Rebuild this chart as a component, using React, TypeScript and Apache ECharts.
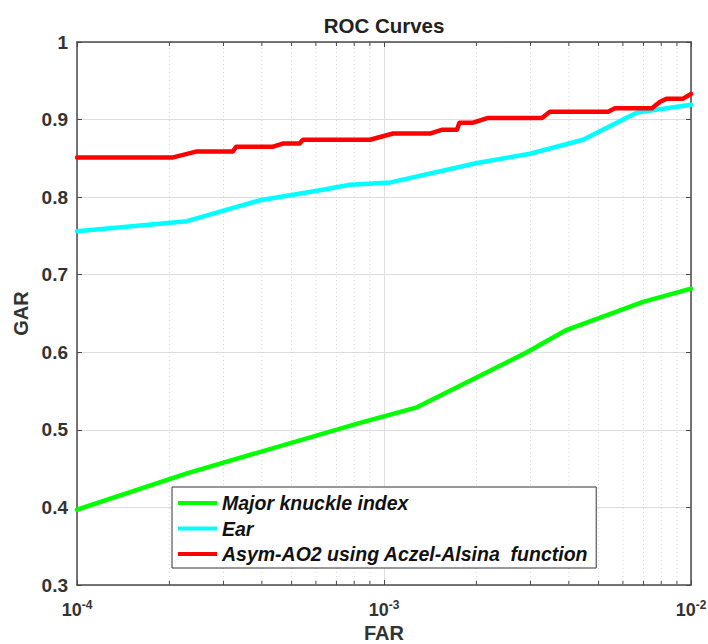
import React, { useEffect, useRef } from "react";
import * as echarts from "echarts";

// ---- Data ----
const SERIES_NAMES = [
  "Major knuckle index",
  "Ear",
  "Asym-AO2 using Aczel-Alsina  function",
];

const GREEN_FAR = [1e-4, 2.28e-4, 8.35e-4, 1.28e-3, 2.92e-3, 3.94e-3, 6.98e-3, 1e-2];
const GREEN_GAR = [0.397, 0.444, 0.509, 0.529, 0.6, 0.629, 0.665, 0.682];

const CYAN_FAR = [1e-4, 2.28e-4, 3.95e-4, 6.19e-4, 7.75e-4, 1.05e-3, 2.01e-3, 2.99e-3, 4.45e-3, 6.67e-3, 7.5e-3, 1e-2];
const CYAN_GAR = [0.756, 0.769, 0.796, 0.809, 0.816, 0.819, 0.844, 0.856, 0.874, 0.909, 0.912, 0.919];

const RED_FAR = [
  1e-4, 2.04e-4, 2.46e-4, 3.22e-4, 3.3e-4, 4.35e-4, 4.68e-4, 5.3e-4, 5.45e-4,
  9.0e-4, 1.07e-3, 1.41e-3, 1.55e-3, 1.73e-3, 1.76e-3, 1.95e-3, 2.17e-3,
  3.27e-3, 3.47e-3, 5.37e-3, 5.65e-3, 7.46e-3, 7.93e-3, 8.35e-3, 9.42e-3, 1e-2,
];
const RED_GAR = [
  0.851, 0.851, 0.859, 0.859, 0.865, 0.865, 0.869, 0.869, 0.874,
  0.874, 0.882, 0.882, 0.887, 0.887, 0.896, 0.896, 0.902,
  0.902, 0.91, 0.91, 0.9145, 0.9145, 0.923, 0.927, 0.927, 0.933,
];

const X_MIN = 1e-4;
const X_MAX = 1e-2;
const Y_MIN = 0.3;
const Y_MAX = 1;
const Y_STEP = 0.1;
const MINOR_TICKS = [
  2e-4, 3e-4, 4e-4, 5e-4, 6e-4, 7e-4, 8e-4, 9e-4,
  2e-3, 3e-3, 4e-3, 5e-3, 6e-3, 7e-3, 8e-3, 9e-3,
];

const COLORS = ["#00ff00", "#00ffff", "#ff0000"];

const zip = (xs: number[], ys: number[]) => xs.map((x, i) => [x, ys[i]]);

const FONT = "'Liberation Sans', Arial, sans-serif";
const AXIS_COLOR = "#4a4a4a";
const LABEL_COLOR = "#333333";

export default function App() {
  const ref = useRef<HTMLDivElement | null>(null);

  useEffect(() => {
    if (!ref.current) return;
    const chart = echarts.init(ref.current, undefined, { renderer: "svg" });

    const xLabel = {
      show: true,
      margin: 14,
      formatter: (v: number) => {
        const e = Math.round(Math.log10(v));
        return `{b|10}{s|${e}}`;
      },
      rich: {
        b: { fontSize: 18, fontWeight: "bold", color: LABEL_COLOR, fontFamily: FONT },
        s: { fontSize: 12, fontWeight: "bold", color: LABEL_COLOR, fontFamily: FONT, padding: [0, 0, 9, 0] },
      },
    };

    const lineSeries = [
      zip(GREEN_FAR, GREEN_GAR),
      zip(CYAN_FAR, CYAN_GAR),
      zip(RED_FAR, RED_GAR),
    ].map((d, i) => ({
      name: SERIES_NAMES[i],
      type: "line",
      data: d,
      showSymbol: false,
      symbol: "none",
      z: 5 + i,
      lineStyle: { color: COLORS[i], width: 4.5, cap: "round", join: "round" },
      itemStyle: { color: COLORS[i] },
    }));

    chart.setOption({
      animation: false,
      backgroundColor: "#ffffff",
      title: {
        text: "ROC Curves",
        left: 384,
        top: 15,
        padding: 0,
        textAlign: "center",
        textStyle: { fontFamily: FONT, fontSize: 20.5, fontWeight: "bold", color: "#222" },
      },
      legend: {
        data: SERIES_NAMES,
        orient: "vertical",
        left: 172,
        top: 487,
        padding: [6, 8, 4, 6],
        itemGap: 5.5,
        itemWidth: 39,
        itemHeight: 4,
        icon: "rect",
        backgroundColor: "#ffffff",
        borderColor: "#333333",
        borderWidth: 1,
        textStyle: {
          fontFamily: FONT,
          fontSize: 19.5,
          fontWeight: "bold",
          fontStyle: "italic",
          color: "#111",
          lineHeight: 20,
        },
        z: 20,
      },
      grid: { left: 77, right: 17, top: 42, bottom: 59, containLabel: false, outerBoundsMode: "none" },
      xAxis: [
        {
          type: "log",
          logBase: 10,
          min: X_MIN,
          max: X_MAX,
          position: "bottom",
          name: "FAR",
          nameLocation: "middle",
          nameGap: 36,
          nameTextStyle: { fontFamily: FONT, fontSize: 20, fontWeight: "bold", color: LABEL_COLOR, lineHeight: 20, verticalAlign: "top" },
          axisLine: { show: true, lineStyle: { color: AXIS_COLOR, width: 1.5 } },
          axisTick: { show: true, inside: true, length: 5, lineStyle: { color: AXIS_COLOR } },
          axisLabel: xLabel,
          splitLine: { show: true, lineStyle: { color: "#dedede", width: 1 } },
          minorTick: { show: false },
          minorSplitLine: { show: false },
        },
        {
          type: "log",
          logBase: 10,
          min: X_MIN,
          max: X_MAX,
          position: "top",
          axisLine: { show: true, lineStyle: { color: AXIS_COLOR, width: 1.5 } },
          axisTick: { show: true, inside: true, length: 5, lineStyle: { color: AXIS_COLOR } },
          axisLabel: { show: false },
          splitLine: { show: false },
        },
      ],
      yAxis: [
        {
          type: "value",
          min: Y_MIN,
          max: Y_MAX,
          interval: Y_STEP,
          position: "left",
          name: "GAR",
          nameLocation: "middle",
          nameRotate: 90,
          nameGap: 44,
          nameTextStyle: { fontFamily: FONT, fontSize: 20, fontWeight: "bold", color: LABEL_COLOR },
          axisLine: { show: true, lineStyle: { color: AXIS_COLOR, width: 1.5 } },
          axisTick: { show: true, inside: true, length: 5, lineStyle: { color: AXIS_COLOR } },
          axisLabel: {
            margin: 9,
            fontFamily: FONT,
            fontSize: 19,
            fontWeight: "bold",
            color: LABEL_COLOR,
            formatter: (v: number) => (Math.abs(v - 1) < 1e-9 ? "1" : v.toFixed(1)),
          },
          splitLine: { show: true, lineStyle: { color: "#dedede", width: 1 } },
        },
        {
          type: "value",
          min: Y_MIN,
          max: Y_MAX,
          interval: Y_STEP,
          position: "right",
          axisLine: { show: true, lineStyle: { color: AXIS_COLOR, width: 1.5 } },
          axisTick: { show: true, inside: true, length: 5, lineStyle: { color: AXIS_COLOR } },
          axisLabel: { show: false },
          splitLine: { show: false },
        },
      ],
      series: [
        {
          type: "custom",
          silent: true,
          z: 1,
          xAxisIndex: 0,
          yAxisIndex: 0,
          data: MINOR_TICKS.map((v) => [v, Y_MIN]),
          encode: { x: 0, y: 1 },
          renderItem: (params: any, api: any) => {
            const x = api.value(0);
            const b = api.coord([x, Y_MIN]);
            const t = api.coord([x, Y_MAX]);
            return {
              type: "group",
              children: [
                {
                  type: "line",
                  shape: { x1: b[0], y1: b[1], x2: t[0], y2: t[1] },
                  style: { stroke: "#d4d4d4", lineWidth: 1, lineDash: [1, 3] },
                },
                {
                  type: "line",
                  shape: { x1: b[0], y1: b[1], x2: b[0], y2: b[1] - 4 },
                  style: { stroke: AXIS_COLOR, lineWidth: 1 },
                },
                {
                  type: "line",
                  shape: { x1: t[0], y1: t[1], x2: t[0], y2: t[1] + 4 },
                  style: { stroke: AXIS_COLOR, lineWidth: 1 },
                },
              ],
            };
          },
        },
        ...lineSeries,
      ],
    });

    return () => chart.dispose();
  }, []);

  return (
    <div
      ref={ref}
      style={{ position: "absolute", left: 0, top: 0, width: 708, height: 644, background: "#fff" }}
    />
  );
}
